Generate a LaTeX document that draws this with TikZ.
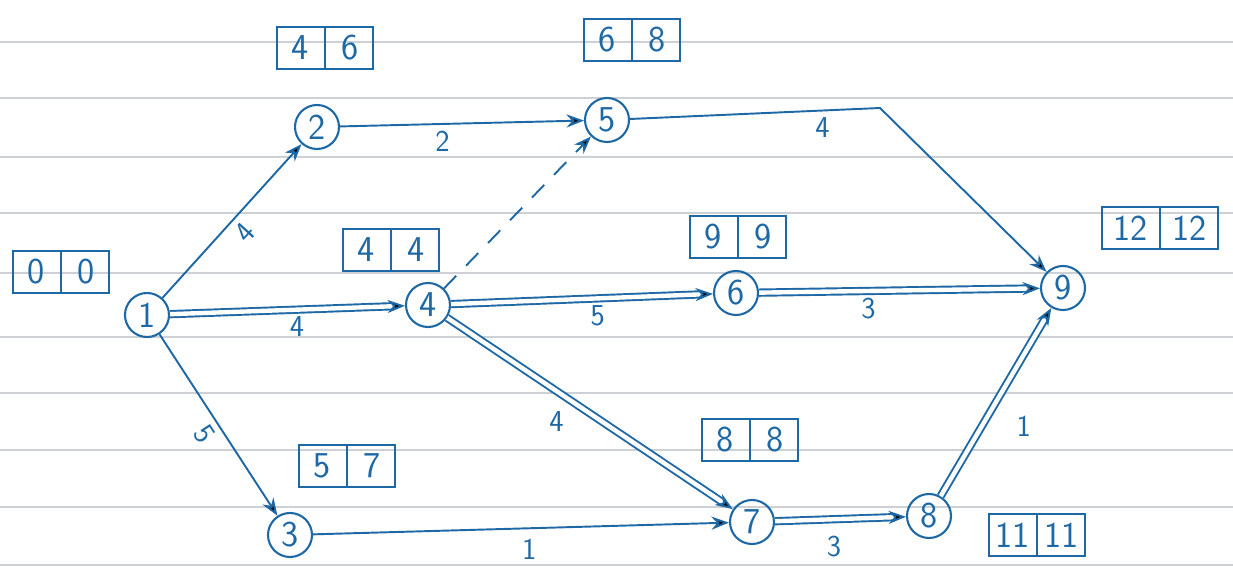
\documentclass[tikz,border=0pt]{standalone}
\usepackage{tikz}
\usetikzlibrary{arrows.meta,positioning,shapes.multipart}
\definecolor{ink}{RGB}{30,105,165}
\definecolor{ruling}{RGB}{205,208,212}

\begin{document}
\begin{tikzpicture}[x=0.02cm, y=-0.02cm,
    event/.style={draw=ink, circle, line width=1.2pt, minimum size=0.88cm, inner sep=0pt,
      text=ink, font=\sffamily\huge},
    tbox/.style={draw=ink, line width=1.2pt, rectangle split, rectangle split horizontal,
      rectangle split parts=2, rectangle split draw splits=true, text width=0.8cm,
      align=center, minimum height=0.85cm, inner sep=2pt, text=ink, font=\sffamily\huge},
    arr/.style={-{Stealth[length=3.5mm]}, draw=ink, line width=1.1pt},
    crit/.style={arr, double=white, double distance=2.5pt},
    dummy/.style={arr, dash pattern=on 10pt off 8pt},
    lbl/.style={text=ink, font=\sffamily\LARGE},
  ]
    \useasboundingbox (0,0) rectangle (1233,570);

    % ruled paper
    \foreach \y in {42,98,157,213,273,337,393,450,507,565}
      \draw[ruling, line width=1.2pt] (0,\y) -- (1233,\y);

    % events
    \node[event] (e1) at (147,315) {1};
    \node[event] (e2) at (317,127) {2};
    \node[event] (e3) at (290,535) {3};
    \node[event] (e4) at (428,305) {4};
    \node[event] (e5) at (607,120) {5};
    \node[event] (e6) at (736,293) {6};
    \node[event] (e7) at (752,522) {7};
    \node[event] (e8) at (929,516) {8};
    \node[event] (e9) at (1063,288) {9};

    % earliest | latest times
    \node[tbox] (t1) at (61,272)  {0\nodepart{two}0};
    \node[tbox] (t2) at (325,48)  {4\nodepart{two}6};
    \node[tbox] (t3) at (347,466) {5\nodepart{two}7};
    \node[tbox] (t4) at (391,250) {4\nodepart{two}4};
    \node[tbox] (t5) at (632,40)  {6\nodepart{two}8};
    \node[tbox] (t6) at (738,237) {9\nodepart{two}9};
    \node[tbox] (t7) at (750,440) {8\nodepart{two}8};
    \node[tbox] (t8) at (1037,535) {11\nodepart{two}11};
    \node[tbox, text width=1cm] (t9) at (1160,228) {12\nodepart{two}12};

    % activities
    \coordinate (c59) at (880,108);
    \draw[arr] (e1) -- node[lbl, sloped, below] {4} (e2);
    \draw[arr] (e2) -- node[lbl, pos=.42, below] {2} (e5);
    \draw[arr] (e5) -- node[lbl, pos=.77, below] {4} (c59) -- (e9);
    \draw[arr] (e1) -- node[lbl, sloped, below] {5} (e3);
    \draw[arr] (e3) -- node[lbl, pos=.52, below=2pt] {1} (e7);
    \draw[dummy] (e4) -- (e5);

    % critical path
    \draw[crit] (e1) -- node[lbl, pos=.54, below] {4} (e4);
    \draw[crit] (e4) -- node[lbl, pos=.56, below] {5} (e6);
    \draw[crit] (e6) -- node[lbl, pos=.39, below] {3} (e9);
    \draw[crit] (e4) -- node[lbl, pos=.44, below left=2pt] {4} (e7);
    \draw[crit] (e7) -- node[lbl, pos=.45, below=6pt] {3} (e8);
    \draw[crit] (e8) -- node[lbl, pos=.37, right=16pt] {1} (e9);
\end{tikzpicture}
\end{document}
